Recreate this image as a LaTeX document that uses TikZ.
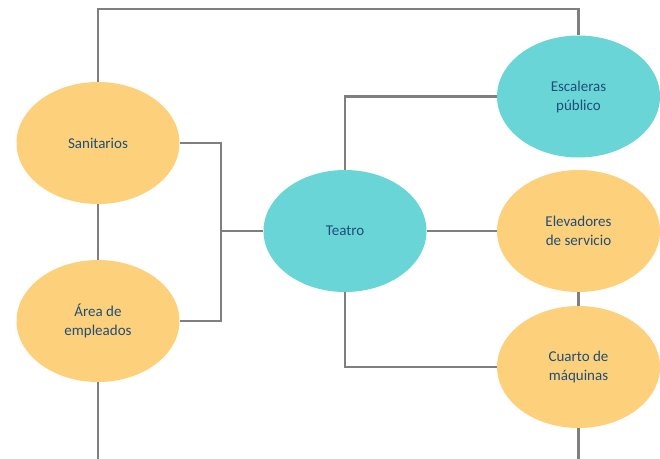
\documentclass[tikz,border=0pt]{standalone}
\usepackage{fontspec}
\setmainfont{Carlito}
\usetikzlibrary{shapes.geometric}
\definecolor{orangefill}{HTML}{FDD07B}
\definecolor{tealfill}{HTML}{6AD5D7}
\definecolor{txtblue}{HTML}{1F4E79}
\definecolor{linegray}{HTML}{7F7F7F}
\tikzset{
  oval/.style={ellipse, minimum width=163pt, minimum height=122pt, inner sep=0pt,
    align=center, text=txtblue, font=\fontsize{15}{19}\selectfont},
  orangeoval/.style={oval, fill=orangefill},
  tealoval/.style={oval, fill=tealfill},
  conn/.style={draw=linegray, line width=2.8pt}
}
\begin{document}
\begin{tikzpicture}[x=1pt,y=-1pt]
\useasboundingbox (0,0) rectangle (660,458);
\clip (0,0) rectangle (660,458);
% nodes
\node[orangeoval] (san) at (98,143) {Sanitarios};
\node[orangeoval] (area) at (98,321) {Área de\\empleados};
\node[tealoval] (teatro) at (345,231) {Teatro};
\node[tealoval] (esc) at (578.5,96.5) {Escaleras\\público};
\node[orangeoval] (elev) at (578.5,231) {Elevadores\\de servicio};
\node[orangeoval] (cuarto) at (578.5,367) {Cuarto de\\máquinas};
% junction coordinates
\coordinate (topL) at (98,9);
\coordinate (topR) at (578.5,9);
\coordinate (jS) at (221,143);
\coordinate (jA) at (221,321);
\coordinate (jT) at (221,231);
\coordinate (tUp) at (345,96.5);
\coordinate (tDn) at (345,367);
\coordinate (botL) at (98,460.3);
\coordinate (botR) at (578.5,460.3);
% connectors
\draw[conn] (san.north) -- (topL) -- (topR) -- (esc.north);
\draw[conn] (san.east) -- (jS) -- (jA) -- (area.east);
\draw[conn] (jT) -- (teatro.west);
\draw[conn] (san.south) -- (area.north);
\draw[conn] (area.south) -- (botL) -- (botR) -- (cuarto.south);
\draw[conn] (teatro.north) -- (tUp) -- (esc.west);
\draw[conn] (teatro.east) -- (elev.west);
\draw[conn] (elev.south) -- (cuarto.north);
\draw[conn] (teatro.south) -- (tDn) -- (cuarto.west);
\end{tikzpicture}
\end{document}
